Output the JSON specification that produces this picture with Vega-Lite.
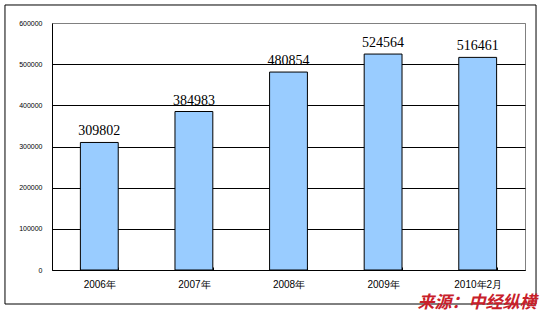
{
  "$schema": "https://vega.github.io/schema/vega-lite/v6.json",
  "width": 473,
  "height": 247,
  "autosize": {"type": "none"},
  "padding": {"left": 52, "top": 23, "right": 18, "bottom": 41},
  "background": "white",
  "config": {"view": {"stroke": "#808080", "strokeWidth": 1}},
  "title": {
    "text": "来源：中经纵横",
    "orient": "bottom",
    "anchor": "end",
    "color": "#c8202a",
    "font": "Noto Sans CJK SC",
    "fontSize": 17,
    "fontWeight": "bold",
    "fontStyle": "italic",
    "dx": 0,
    "offset": -10
  },
  "layer": [
    {
      "data": {"values": [{"fx0": -0.0994, "fx1": 1.0233, "fy0": -0.1377, "fy1": 1.0729}]},
      "mark": {"type": "rect", "fillOpacity": 0, "stroke": "black", "strokeWidth": 1, "clip": false},
      "encoding": {
        "x": {"field": "fx0", "type": "quantitative", "scale": {"domain": [0, 1], "nice": false, "zero": false}, "axis": null},
        "x2": {"field": "fx1"},
        "y": {"field": "fy0", "type": "quantitative", "scale": {"domain": [0, 1], "nice": false, "zero": false}, "axis": null},
        "y2": {"field": "fy1"}
      }
    },
    {
      "data": {"values": [
        {"period": "2006年", "value": 309802},
        {"period": "2007年", "value": 384983},
        {"period": "2008年", "value": 480854},
        {"period": "2009年", "value": 524564},
        {"period": "2010年2月", "value": 516461}
      ]},
      "encoding": {
        "x": {
          "field": "period", "type": "nominal", "sort": null,
          "scale": {"paddingInner": 0.6, "paddingOuter": 0.3},
          "axis": {
            "title": null, "labelAngle": 0, "labelFont": "Liberation Sans", "labelFontSize": 10,
            "labelColor": "black", "labelPadding": 12, "domainColor": "black",
            "tickColor": "black", "tickSize": -3, "tickBand": "extent", "grid": false
          }
        },
        "y": {
          "field": "value", "type": "quantitative",
          "scale": {"domain": [0, 600000], "nice": false},
          "axis": {
            "title": null, "values": [0, 100000, 200000, 300000, 400000, 500000, 600000],
            "format": "d", "labelFont": "Liberation Sans", "labelFontSize": 7, "labelColor": "black",
            "ticks": false, "labelPadding": 10, "domainColor": "black",
            "grid": true, "gridColor": {"condition": {"test": "datum.value === 600000", "value": "#808080"}, "value": "black"},
            "gridOpacity": 1, "gridWidth": 1
          }
        }
      },
      "layer": [
        {"mark": {"type": "bar", "fill": "#99ccff", "stroke": "black", "strokeWidth": 1}},
        {
          "mark": {"type": "text", "baseline": "bottom", "dy": -4, "font": "Liberation Serif", "fontSize": 14, "color": "black"},
          "encoding": {"text": {"field": "value", "type": "quantitative", "format": "d"}}
        }
      ]
    }
  ],
  "resolve": {"scale": {"x": "independent", "y": "independent"}}
}
